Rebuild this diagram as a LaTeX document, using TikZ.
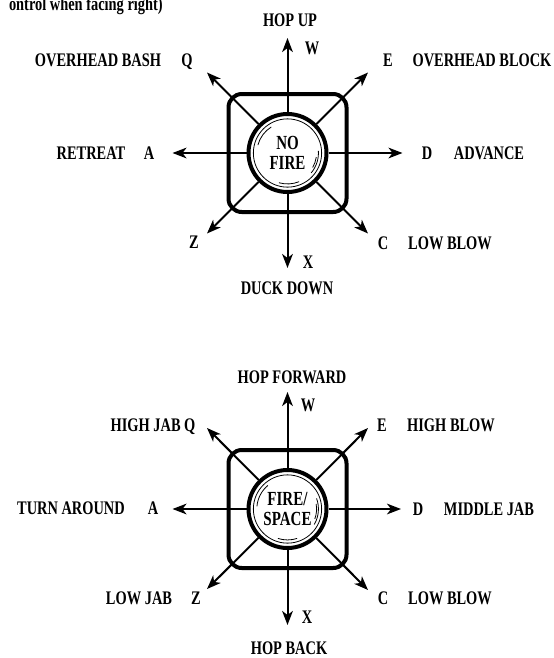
\documentclass[tikz,border=0pt]{standalone}
\usepackage{fontspec}
\newfontfamily\padfont[FakeStretch=0.75]{Liberation Serif}
\usetikzlibrary{arrows.meta}
\tikzset{
  lbl/.style={font=\padfont\bfseries\fontsize{14.4}{15}\selectfont,inner sep=0pt,text depth=0pt},
  btn/.style={circle,draw,line width=3pt,minimum size=58.5pt,inner sep=0pt,align=center,
    font=\padfont\bfseries\fontsize{15}{14.8}\selectfont},
  pad/.style={draw,line width=3pt,rounded corners=10pt,minimum size=88.5pt,inner sep=0pt},
  dir/.style={line width=1.5pt,-{Stealth[length=10.5pt,width=8pt,inset=3pt]}},
  ring/.style={line width=0.6pt}
}
\begin{document}
\begin{tikzpicture}[x=0.75pt,y=-0.75pt]
\useasboundingbox (0,0) rectangle (554,658);
\node[lbl,anchor=east] (cap) at (163,3.6) {ontrol when facing right)};
% upper pad, no fire
\node[pad] (padA) at (287.5,153) {};
\node[btn] (btnA) at (287.5,153) {NO\\FIRE};
\draw[ring] (btnA.center) circle[radius=25.6pt];
\draw[ring] ([shift={(122:23pt)}]btnA.center) arc[start angle=122,end angle=165,radius=23pt];
\draw[ring] ([shift={(-40:23.2pt)}]btnA.center) arc[start angle=-40,end angle=4,radius=23.2pt];
\draw[ring] ([shift={(-30:21.8pt)}]btnA.center) arc[start angle=-30,end angle=-8,radius=21.8pt];
\draw[ring] ([shift={(-106:23.2pt)}]btnA.center) arc[start angle=-106,end angle=-68,radius=23.2pt];
\coordinate (wA) at (287.5,38);
\coordinate (xA) at (287.5,268);
\coordinate (aA) at (172.5,153);
\coordinate (dA) at (402.5,153);
\coordinate (qA) at (207,72.5);
\coordinate (eA) at (368,72.5);
\coordinate (zA) at (207,233.5);
\coordinate (cA) at (368,233.5);
\draw[dir] (btnA) -- (wA);
\draw[dir] (btnA) -- (xA);
\draw[dir] (btnA) -- (aA);
\draw[dir] (btnA) -- (dA);
\draw[dir] (btnA) -- (qA);
\draw[dir] (btnA) -- (eA);
\draw[dir] (btnA) -- (zA);
\draw[dir] (btnA) -- (cA);
\node[lbl] (hopup) at (290,20) {HOP UP};
\node[lbl] (kwA) at (312,48) {W};
\node[lbl] (bash) at (98,60) {OVERHEAD BASH};
\node[lbl] (kqA) at (187,60) {Q};
\node[lbl] (keA) at (388,60) {E};
\node[lbl] (block) at (482,60) {OVERHEAD BLOCK};
\node[lbl] (retreat) at (91,153) {RETREAT};
\node[lbl] (kaA) at (149,153) {A};
\node[lbl] (kdA) at (427,153) {D};
\node[lbl] (advance) at (489,153) {ADVANCE};
\node[lbl] (kzA) at (194,242) {Z};
\node[lbl] (kcA) at (383,243) {C};
\node[lbl] (lowblowA) at (450,243) {LOW BLOW};
\node[lbl] (kxA) at (308,262) {X};
\node[lbl] (duck) at (287,288) {DUCK DOWN};
% lower pad, fire held
\node[pad] (padB) at (287.5,509) {};
\node[btn] (btnB) at (287.5,509) {FIRE/\\SPACE};
\draw[ring] (btnB.center) circle[radius=25.6pt];
\draw[ring] ([shift={(130:23pt)}]btnB.center) arc[start angle=130,end angle=175,radius=23pt];
\draw[ring] ([shift={(-30:23.2pt)}]btnB.center) arc[start angle=-30,end angle=20,radius=23.2pt];
\draw[ring] ([shift={(-20:21.8pt)}]btnB.center) arc[start angle=-20,end angle=10,radius=21.8pt];
\draw[ring] ([shift={(-108:23.2pt)}]btnB.center) arc[start angle=-108,end angle=-72,radius=23.2pt];
\coordinate (wB) at (287.5,392);
\coordinate (xB) at (287.5,625);
\coordinate (aB) at (172.5,509);
\coordinate (dB) at (401,509);
\coordinate (qB) at (207,428);
\coordinate (eB) at (368,428);
\coordinate (zB) at (207,589);
\coordinate (cB) at (368,590);
\draw[dir] (btnB) -- (wB);
\draw[dir] (btnB) -- (xB);
\draw[dir] (btnB) -- (aB);
\draw[dir] (btnB) -- (dB);
\draw[dir] (btnB) -- (qB);
\draw[dir] (btnB) -- (eB);
\draw[dir] (btnB) -- (zB);
\draw[dir] (btnB) -- (cB);
\node[lbl] (hopfwd) at (292,377) {HOP FORWARD};
\node[lbl] (kwB) at (308,405) {W};
\node[lbl] (highjab) at (153,425) {HIGH JAB Q};
\node[lbl] (keB) at (382,425) {E};
\node[lbl] (highblow) at (451,425) {HIGH BLOW};
\node[lbl] (turn) at (71,508) {TURN AROUND};
\node[lbl] (kaB) at (153,508) {A};
\node[lbl] (kdB) at (418,509) {D};
\node[lbl] (midjab) at (489,509) {MIDDLE JAB};
\node[lbl] (lowjab) at (139,598) {LOW JAB};
\node[lbl] (kzB) at (196,598) {Z};
\node[lbl] (kcB) at (383,598) {C};
\node[lbl] (lowblowB) at (450,598) {LOW BLOW};
\node[lbl] (kxB) at (307,617) {X};
\node[lbl] (hopback) at (289,648.5) {HOP BACK};
\end{tikzpicture}
\end{document}
